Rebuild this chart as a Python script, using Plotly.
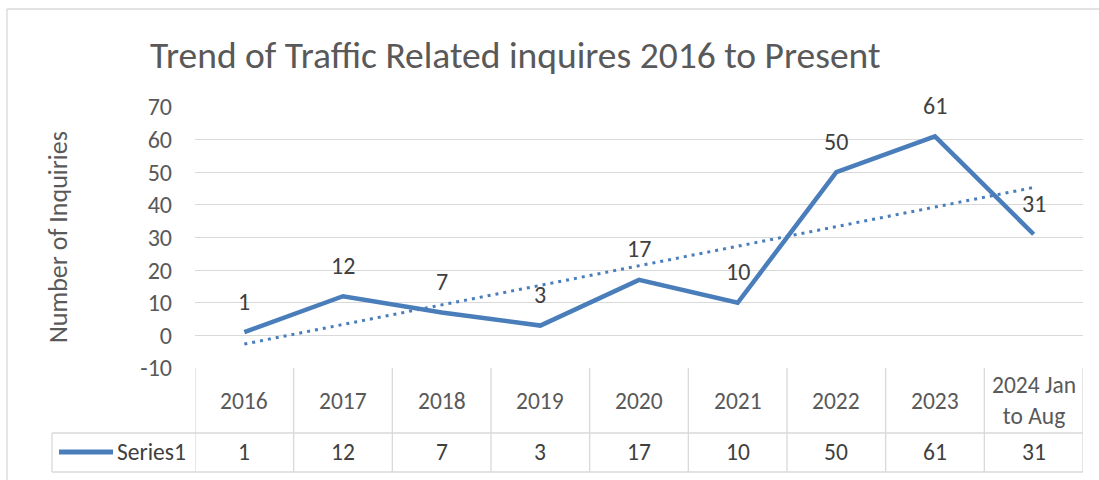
import numpy as np
import plotly.graph_objects as go

categories = ["2016", "2017", "2018", "2019", "2020", "2021", "2022", "2023", "2024 Jan to Aug"]
cat_labels = ["2016", "2017", "2018", "2019", "2020", "2021", "2022", "2023", "2024 Jan<br>to Aug"]
values = [1, 12, 7, 3, 17, 10, 50, 61, 31]
series_name = "Series1"
title_text = "Trend of Traffic Related inquires 2016 to Present"
y_title = "Number of Inquiries"
y_ticks = [-10, 0, 10, 20, 30, 40, 50, 60, 70]
y_tick_text = ["-10", "0", "10", "20", "30", "40", "50", "60", "70"]

# linear trendline (least squares over category index)
idx = np.arange(len(values))
slope, intercept = np.polyfit(idx, values, 1)
trend = list(slope * idx + intercept)

W, H = 1099, 480
ML, MR, MT, MB = 195, 16, 107, 112
PW = W - ML - MR
PH = H - MT - MB

def px(p):
    return (p - ML) / PW

def py(p):
    return (H - MB - p) / PH

FONT = "Calibri, Carlito, Lato, sans-serif"
BLUE = "#4A7EBB"
GRID = "#D9D9D9"
TXT = "#595959"
DARK = "#404040"

fig = go.Figure()
fig.add_trace(go.Scatter(x=categories, y=values, mode="lines",
                         line=dict(color=BLUE, width=4.5), name=series_name,
                         showlegend=False, hoverinfo="x+y"))
fig.add_trace(go.Scatter(x=categories, y=trend, mode="lines",
                         line=dict(color=BLUE, width=3, dash="3px,5px"),
                         showlegend=False, hoverinfo="skip"))

annotations = []
# data labels
for i, v in enumerate(values):
    annotations.append(dict(x=i, y=v, xref="x", yref="y", text=str(v), showarrow=False,
                            yshift=31, font=dict(family=FONT, size=24, color=DARK)))
# table header and values
for i, (lab, v) in enumerate(zip(cat_labels, values)):
    annotations.append(dict(x=i, y=py(400.5), xref="x", yref="paper", text=lab, showarrow=False,
                            yanchor="middle", font=dict(family=FONT, size=23.5, color=TXT)))
    annotations.append(dict(x=i, y=py(452), xref="x", yref="paper", text=str(v), showarrow=False,
                            yanchor="middle", font=dict(family=FONT, size=23.5, color=DARK)))
# legend text
annotations.append(dict(x=px(115), y=py(452), xref="paper", yref="paper", text=series_name,
                        showarrow=False, xanchor="left", yanchor="middle",
                        font=dict(family=FONT, size=23.5, color=DARK)))
# title
annotations.append(dict(x=px(148), y=py(55), xref="paper", yref="paper", text=title_text,
                        showarrow=False, xanchor="left", yanchor="middle",
                        font=dict(family=FONT, size=37.5, color=TXT)))
# y title
annotations.append(dict(x=px(58), y=py(237), xref="paper", yref="paper", text=y_title,
                        showarrow=False, textangle=-90, xanchor="center", yanchor="middle",
                        font=dict(family=FONT, size=26, color=TXT)))

shapes = []
line_style = dict(color=GRID, width=1.3)
# vertical table lines
for i in range(len(categories) + 1):
    shapes.append(dict(type="line", xref="x", yref="paper", x0=i - 0.5, x1=i - 0.5,
                       y0=py(368), y1=py(472), line=line_style))
# horizontal table lines
for yy in (433, 472):
    shapes.append(dict(type="line", xref="paper", yref="paper", x0=px(52), x1=1,
                       y0=py(yy), y1=py(yy), line=line_style))
# legend cell left border
shapes.append(dict(type="line", xref="paper", yref="paper", x0=px(52), x1=px(52),
                   y0=py(433), y1=py(472), line=line_style))
# legend line sample
shapes.append(dict(type="line", xref="paper", yref="paper", x0=px(59), x1=px(113),
                   y0=py(452), y1=py(452), line=dict(color=BLUE, width=5)))
# outer chart border (left and top)
shapes.append(dict(type="line", xref="paper", yref="paper", x0=px(7), x1=px(7),
                   y0=py(9), y1=py(485), line=dict(color=GRID, width=1.3)))
shapes.append(dict(type="line", xref="paper", yref="paper", x0=px(7), x1=px(1105),
                   y0=py(9), y1=py(9), line=dict(color=GRID, width=1.3)))

fig.update_layout(
    width=W, height=H,
    margin=dict(l=ML, r=MR, t=MT, b=MB),
    paper_bgcolor="white", plot_bgcolor="white",
    font=dict(family=FONT, color=TXT),
    showlegend=False,
    annotations=annotations,
    shapes=shapes,
    xaxis=dict(type="category", range=[-0.5, len(categories) - 0.5], showgrid=False,
               showticklabels=False, showline=False, zeroline=False, ticks=""),
    yaxis=dict(range=[-10, 70], tickvals=y_ticks, ticktext=y_tick_text, showgrid=True,
               gridcolor=GRID, gridwidth=1.3,
               zeroline=False, showline=False, ticks="", ticklabelstandoff=22,
               tickfont=dict(family=FONT, size=24, color=TXT)),
)

fig.write_html("out.html")
